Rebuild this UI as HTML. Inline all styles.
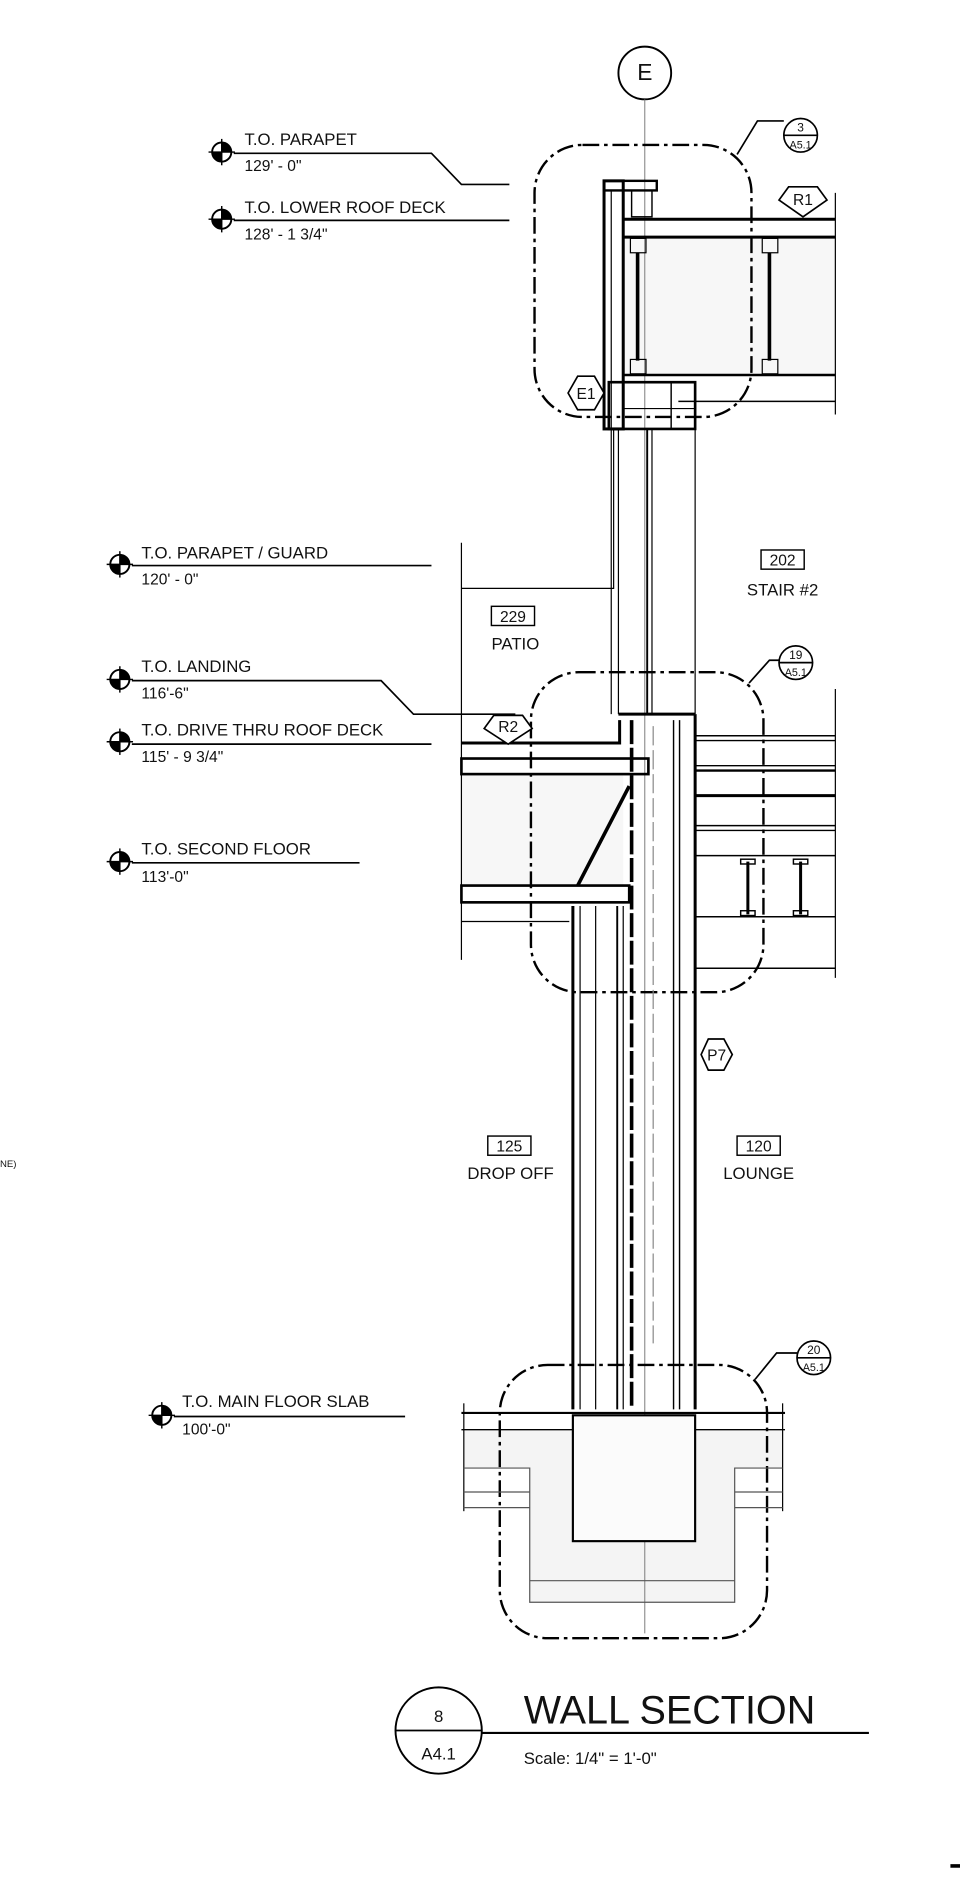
<!DOCTYPE html>
<html><head><meta charset="utf-8"><style>
html,body{margin:0;padding:0;background:#fff;width:960px;height:1879px;overflow:hidden}
svg{display:block}
text{font-family:"Liberation Sans",sans-serif;fill:#111}
</style></head><body>
<svg width="960" height="1879" viewBox="0 0 801 1566" xmlns="http://www.w3.org/2000/svg">
<defs>
<g id="lv"><circle r="8" fill="#fff" stroke="#000" stroke-width="1.6"/><path d="M0 0 L0 -8 A8 8 0 0 1 8 0 Z M0 0 L0 8 A8 8 0 0 1 -8 0 Z" fill="#000"/><line x1="-11" y1="0" x2="11" y2="0" stroke="#000" stroke-width="1.2"/><line x1="0" y1="-11" x2="0" y2="11" stroke="#000" stroke-width="1.2"/></g>
</defs>
<rect width="801" height="1566" fill="#fff"/>
<!-- soft fills -->
<path d="M387 1193 L478 1193 L478 1285 L580 1285 L580 1193 L653 1193 L653 1224 L613 1224 L613 1336 L442 1336 L442 1224 L387 1224 Z" fill="#f4f4f4"/>
<rect x="520" y="198" width="177" height="114" fill="#f7f7f7"/>
<rect x="385" y="645" width="135" height="93" fill="#f7f7f7"/>
<g fill="none" stroke="#000">
<circle cx="538" cy="60" r="22" stroke-width="1.6"/>
<line x1="538" y1="82" x2="538" y2="1362" stroke="#777" stroke-width="0.8"/>
<g stroke-width="2" stroke-dasharray="14,4,3,4">
<rect x="446" y="120" width="181" height="227" rx="40"/>
<rect x="443" y="560" width="194" height="267" rx="40"/>
<rect x="417" y="1138" width="223" height="228" rx="40"/>
</g>
<g stroke-width="1.4">
<polyline points="615,128 632,100 654,100"/>
<circle cx="668" cy="112" r="14"/><line x1="654" y1="112" x2="682" y2="112"/>
<polyline points="625,569 642,550 650,550"/>
<circle cx="664" cy="552" r="14"/><line x1="650" y1="552" x2="678" y2="552"/>
<polyline points="630,1150 648,1128 665,1128"/>
<circle cx="679" cy="1132" r="14"/><line x1="665" y1="1132" x2="693" y2="1132"/>
</g>
<g stroke-width="1.4">
<polyline points="195,127 360,127 385,153 425,153"/>
<line x1="195" y1="183" x2="425" y2="183"/>
<line x1="110" y1="471" x2="360" y2="471"/>
<polyline points="110,567 318,567 345,595 430,595"/>
<line x1="110" y1="620" x2="360" y2="620"/>
<line x1="110" y1="719" x2="300" y2="719"/>
<line x1="145" y1="1181" x2="338" y2="1181"/>
</g>
<rect x="504" y="150" width="16" height="207" stroke-width="2.5"/>
<line x1="510" y1="158" x2="510" y2="357" stroke-width="1"/>
<rect x="504" y="150" width="44" height="8" stroke-width="2"/>
<rect x="527" y="158" width="17" height="22" stroke-width="1.2"/>
<line x1="520" y1="182" x2="697" y2="182" stroke-width="2.5"/>
<line x1="520" y1="197" x2="697" y2="197" stroke-width="2.5"/>
<line x1="520" y1="312" x2="697" y2="312" stroke-width="2"/>
<line x1="566" y1="334" x2="697" y2="334" stroke-width="1.2"/>
<line x1="697" y1="160" x2="697" y2="345" stroke-width="1"/>
<line x1="532" y1="210" x2="532" y2="300" stroke-width="3"/>
<line x1="642" y1="210" x2="642" y2="300" stroke-width="3"/>
<rect x="526" y="198" width="13" height="12" stroke-width="1"/><rect x="526" y="299" width="13" height="12" stroke-width="1"/>
<rect x="636" y="198" width="13" height="12" stroke-width="1"/><rect x="636" y="299" width="13" height="12" stroke-width="1"/>
<rect x="508" y="318" width="72" height="39" stroke-width="2.2"/>
<line x1="560" y1="318" x2="560" y2="357" stroke-width="1.2"/>
<line x1="520" y1="340" x2="580" y2="340" stroke-width="1"/>
<g stroke-width="1">
<line x1="510" y1="357" x2="510" y2="595"/><line x1="516" y1="357" x2="516" y2="595"/>
<line x1="540" y1="357" x2="540" y2="595" stroke-width="1.6"/><line x1="544" y1="357" x2="544" y2="595"/>
<line x1="580" y1="357" x2="580" y2="595"/>
<polyline points="385,452 385,800"/>
<polyline points="385,490 512,490 512,357"/>
</g>
<line x1="516" y1="595" x2="580" y2="595" stroke-width="2.5"/>
<line x1="527" y1="600" x2="527" y2="1175" stroke-width="3" stroke-dasharray="20,3"/>
<line x1="545" y1="605" x2="545" y2="1120" stroke="#888" stroke-width="1" stroke-dasharray="16,4"/>
<line x1="562" y1="600" x2="562" y2="1175" stroke-width="1.2"/>
<line x1="567" y1="600" x2="567" y2="1175" stroke-width="1.2"/>
<line x1="580" y1="595" x2="580" y2="1175" stroke-width="2.5"/>
<line x1="478" y1="755" x2="478" y2="1175" stroke-width="2.5"/>
<line x1="484" y1="755" x2="484" y2="1175" stroke-width="1"/>
<line x1="497" y1="755" x2="497" y2="1175" stroke-width="1"/>
<line x1="515" y1="755" x2="515" y2="1175" stroke-width="1.6"/>
<line x1="520" y1="755" x2="520" y2="1175" stroke-width="1"/>
<polyline points="385,619 517,619 517,600" stroke-width="2.5"/>
<rect x="385" y="632" width="156" height="13" stroke-width="2.2"/>
<line x1="525" y1="655" x2="482" y2="738" stroke-width="3"/>
<rect x="385" y="738" width="140" height="14" stroke-width="2.2"/>
<line x1="385" y1="768" x2="475" y2="768" stroke-width="1"/>
<g stroke-width="1.2">
<line x1="580" y1="613" x2="697" y2="613"/><line x1="580" y1="617" x2="697" y2="617"/>
<line x1="580" y1="638" x2="697" y2="638"/><line x1="580" y1="642" x2="697" y2="642" stroke-width="2"/>
<line x1="580" y1="663" x2="697" y2="663" stroke-width="2.5"/>
<line x1="580" y1="688" x2="697" y2="688"/><line x1="580" y1="692" x2="697" y2="692"/>
<line x1="580" y1="713" x2="697" y2="713"/>
<line x1="580" y1="764" x2="697" y2="764"/>
<line x1="580" y1="807" x2="697" y2="807"/>
<line x1="697" y1="574" x2="697" y2="815" stroke-width="1"/>
</g>
<g stroke-width="2.5"><line x1="624" y1="718" x2="624" y2="762"/><line x1="668" y1="718" x2="668" y2="762"/></g>
<g stroke-width="1.2"><rect x="618" y="716" width="12" height="4"/><rect x="618" y="759" width="12" height="4"/><rect x="662" y="716" width="12" height="4"/><rect x="662" y="759" width="12" height="4"/></g>
<rect x="478" y="1180" width="102" height="105" fill="#fbfbfb" stroke-width="1.8"/>
<line x1="385" y1="1178" x2="655" y2="1178" stroke-width="1.8"/>
<line x1="385" y1="1192" x2="478" y2="1192" stroke-width="1.2"/><line x1="580" y1="1192" x2="655" y2="1192" stroke-width="1.2"/>
<line x1="387" y1="1170" x2="387" y2="1260" stroke-width="1"/><line x1="653" y1="1170" x2="653" y2="1260" stroke-width="1"/>
<polyline points="387,1224 442,1224 442,1336 613,1336 613,1224 653,1224" stroke="#555" stroke-width="1"/>
<line x1="442" y1="1318" x2="613" y2="1318" stroke="#555" stroke-width="1"/>
<line x1="387" y1="1244" x2="442" y2="1244" stroke="#555" stroke-width="1"/><line x1="613" y1="1244" x2="653" y2="1244" stroke="#555" stroke-width="1"/>
<line x1="387" y1="1257" x2="442" y2="1257" stroke="#555" stroke-width="1"/><line x1="613" y1="1257" x2="653" y2="1257" stroke="#555" stroke-width="1"/>
<g stroke-width="1.4" fill="#fff">
<polygon points="658,155 682,155 690,166 670,180 650,166"/>
<polygon points="474,327 482,313 496,313 504,327 496,341 482,341"/>
<polygon points="412,596 436,596 444,607 424,620 404,607"/>
<polygon points="585,879 591,866 604,866 611,879 604,892 591,892"/>
</g>
<g stroke-width="1.2"><rect x="635" y="458" width="36" height="16"/><rect x="410" y="505" width="36" height="16"/><rect x="407" y="947" width="36" height="16"/><rect x="615" y="947" width="36" height="16"/></g>
<circle cx="366" cy="1443" r="36" stroke-width="1.6"/>
<line x1="330" y1="1443" x2="402" y2="1443" stroke-width="1.4"/>
<line x1="402" y1="1445" x2="725" y2="1445" stroke-width="1.8"/>
<line x1="793" y1="1556" x2="801" y2="1556" stroke-width="3"/>
</g>
<g>
<use href="#lv" x="185" y="126"/><use href="#lv" x="185" y="182"/><use href="#lv" x="100" y="470"/>
<use href="#lv" x="100" y="566"/><use href="#lv" x="100" y="618"/><use href="#lv" x="100" y="718"/><use href="#lv" x="135" y="1180"/>
</g>
<g font-size="14">
<text x="538" y="66" text-anchor="middle" font-size="19">E</text>
<text x="204" y="120">T.O. PARAPET</text><text x="204" y="142" font-size="13">129' - 0"</text>
<text x="204" y="177">T.O. LOWER ROOF DECK</text><text x="204" y="199" font-size="13">128' - 1 3/4"</text>
<text x="118" y="465">T.O. PARAPET / GUARD</text><text x="118" y="487" font-size="13">120' - 0"</text>
<text x="118" y="560">T.O. LANDING</text><text x="118" y="582" font-size="13">116'-6"</text>
<text x="118" y="613">T.O. DRIVE THRU ROOF DECK</text><text x="118" y="635" font-size="13">115' - 9 3/4"</text>
<text x="118" y="712">T.O. SECOND FLOOR</text><text x="118" y="735" font-size="13">113'-0"</text>
<text x="152" y="1173">T.O. MAIN FLOOR SLAB</text><text x="152" y="1196" font-size="13">100'-0"</text>
<text x="653" y="471" text-anchor="middle" font-size="13">202</text><text x="653" y="496" text-anchor="middle">STAIR #2</text>
<text x="428" y="518" text-anchor="middle" font-size="13">229</text><text x="430" y="541" text-anchor="middle">PATIO</text>
<text x="425" y="960" text-anchor="middle" font-size="13">125</text><text x="426" y="983" text-anchor="middle">DROP OFF</text>
<text x="633" y="960" text-anchor="middle" font-size="13">120</text><text x="633" y="983" text-anchor="middle">LOUNGE</text>
<text x="670" y="170" text-anchor="middle" font-size="13">R1</text>
<text x="489" y="332" text-anchor="middle" font-size="13">E1</text>
<text x="424" y="610" text-anchor="middle" font-size="13">R2</text>
<text x="598" y="884" text-anchor="middle" font-size="13">P7</text>
<text x="668" y="109" text-anchor="middle" font-size="10">3</text><text x="668" y="123" text-anchor="middle" font-size="9">A5.1</text>
<text x="664" y="549" text-anchor="middle" font-size="10">19</text><text x="664" y="563" text-anchor="middle" font-size="9">A5.1</text>
<text x="679" y="1129" text-anchor="middle" font-size="10">20</text><text x="679" y="1143" text-anchor="middle" font-size="9">A5.1</text>
<text x="0" y="973" font-size="8">NE)</text>
<text x="366" y="1436" text-anchor="middle" font-size="14">8</text>
<text x="366" y="1467" text-anchor="middle" font-size="14">A4.1</text>
<text x="437" y="1437" font-size="33">WALL SECTION</text>
<text x="437" y="1471" font-size="14">Scale: 1/4" = 1'-0"</text>
</g>
</svg>
</body></html>
